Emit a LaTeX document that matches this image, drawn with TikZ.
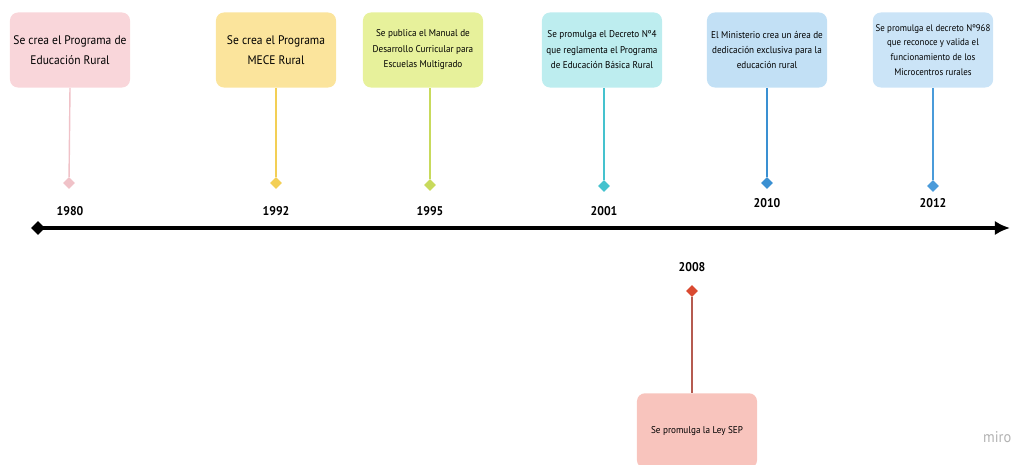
\documentclass[tikz,border=0pt]{standalone}
\usepackage{fontspec}
\setmainfont{PT Sans}[FakeStretch=0.93]
\usetikzlibrary{shapes.geometric,arrows.meta}

\definecolor{pinkbox}{HTML}{F9D6DA}
\definecolor{pinkline}{HTML}{F0C2C8}
\definecolor{yellowbox}{HTML}{FBE49C}
\definecolor{yellowline}{HTML}{F3CF55}
\definecolor{limebox}{HTML}{E7F19B}
\definecolor{limeline}{HTML}{C8DA5C}
\definecolor{cyanbox}{HTML}{BDEDEF}
\definecolor{cyanline}{HTML}{45C2CE}
\definecolor{bluebox}{HTML}{C2E0F5}
\definecolor{blueline}{HTML}{3A90D2}
\definecolor{skybox}{HTML}{CBE4F7}
\definecolor{skyline}{HTML}{4A9BDA}
\definecolor{salmonbox}{HTML}{F8C4BD}
\definecolor{salmonline}{HTML}{B55B50}
\definecolor{salmondot}{HTML}{DA4A31}

\tikzset{
  evbox/.style={rectangle, rounded corners=0.2cm, minimum width=3cm, minimum height=1.875cm, align=center, font=\fontsize{7}{11}\selectfont, inner sep=2pt},
  pin/.style={diamond, aspect=1, inner sep=0pt, minimum size=0.3cm},
  yearlbl/.style={font=\fontsize{9}{11}\selectfont\bfseries},
}

\begin{document}
\begin{tikzpicture}[x=0.025cm, y=-0.025cm]
        \useasboundingbox (0,0) rectangle (1014,465);

        % Eje del tiempo
        \node[pin, fill=black, minimum size=0.35cm] (inicio) at (38,228) {};
        \coordinate (fin) at (1010,228);
        \draw[line width=2.2pt, -{Latex[length=0.38cm, width=0.36cm]}] (inicio.center) -- (fin);

        % 1980
        \node[evbox, fill=pinkbox, font=\fontsize{8.8}{14}\selectfont] (e1980) at (70,50) {Se crea el Programa de\\Educación Rural};
        \node[pin, fill=pinkline] (d1980) at (69,183) {};
        \draw[pinkline, line width=1pt] (e1980.south) -- (d1980);
        \node[yearlbl] (y1980) at (70,211) {1980};

        % 1992
        \node[evbox, fill=yellowbox, font=\fontsize{8.8}{14}\selectfont] (e1992) at (276,50) {Se crea el Programa\\MECE Rural};
        \node[pin, fill=yellowline] (d1992) at (276,183) {};
        \draw[yellowline, line width=1pt] (e1992.south) -- (d1992);
        \node[yearlbl] (y1992) at (276,211) {1992};

        % 1995
        \node[evbox, fill=limebox] (e1995) at (423,50) {Se publica el Manual de\\Desarrollo Curricular para\\Escuelas Multigrado};
        \node[pin, fill=limeline] (d1995) at (430,185) {};
        \draw[limeline, line width=1pt] (d1995 |- e1995.south) -- (d1995);
        \node[yearlbl] (y1995) at (430,211) {1995};

        % 2001
        \node[evbox, fill=cyanbox] (e2001) at (602,50) {Se promulga el Decreto Nº4\\que reglamenta el Programa\\de Educación Básica Rural};
        \node[pin, fill=cyanline] (d2001) at (604,186) {};
        \draw[cyanline, line width=1pt] (d2001 |- e2001.south) -- (d2001);
        \node[yearlbl] (y2001) at (604,211) {2001};

        % 2010
        \node[evbox, fill=bluebox] (e2010) at (767,50) {El Ministerio crea un área de\\dedicación exclusiva para la\\educación rural};
        \node[pin, fill=blueline] (d2010) at (767,183) {};
        \draw[blueline, line width=1pt] (e2010.south) -- (d2010);
        \node[yearlbl] (y2010) at (767,203) {2010};

        % 2012
        \node[evbox, fill=skybox, font=\fontsize{6.8}{10.5}\selectfont] (e2012) at (933,50) {Se promulga el decreto Nº968\\que reconoce y valida el\\funcionamiento de los\\Microcentros rurales};
        \node[pin, fill=skyline] (d2012) at (933,186) {};
        \draw[skyline, line width=1pt] (e2012.south) -- (d2012);
        \node[yearlbl] (y2012) at (933,203) {2012};

        % 2008 (debajo del eje)
        \node[yearlbl] (y2008) at (692,267) {2008};
        \node[pin, fill=salmondot] (d2008) at (692,291) {};
        \node[evbox, fill=salmonbox, anchor=north] (e2008) at (697,393) {Se promulga la Ley SEP};
        \draw[salmonline, line width=1pt] (d2008) -- (d2008 |- e2008.north);

        % marca de agua
        \node[text=black!30, font=\fontsize{11}{13}\selectfont, anchor=east, inner sep=1pt] (marca) at (1013,437) {miro};
    \end{tikzpicture}
\end{document}
